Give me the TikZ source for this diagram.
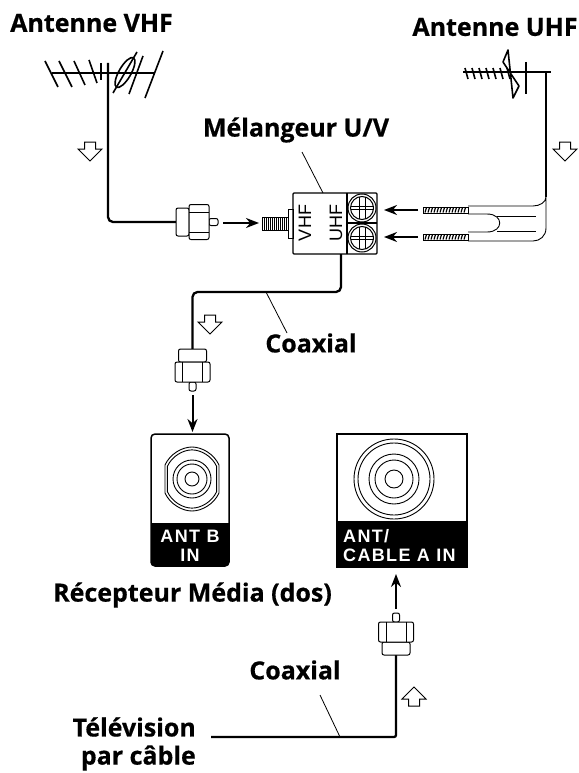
\documentclass[tikz,border=0pt]{standalone}
\usepackage{fontspec}
\setmainfont{Open Sans}[BoldFeatures={FakeBold=0.5}]
\newfontfamily\panelfont[LetterSpace=7.5]{Liberation Sans}
\newfontfamily\markfont{Liberation Sans}
\usetikzlibrary{arrows.meta}
\tikzset{
  title/.style={inner sep=0pt, font=\fontsize{25}{30}\selectfont\bfseries},
  panel/.style={inner sep=0pt, text=white, font=\fontsize{18}{19}\selectfont\panelfont\bfseries},
  portmark/.style={inner sep=0pt, rotate=90, font=\fontsize{18}{18}\selectfont\markfont},
  coax/.style={line width=2.3pt, rounded corners=5pt},
  thin line/.style={line width=0.9pt},
  leader/.style={line width=0.8pt},
  aerial/.style={line width=1.6pt},
  push/.style={line width=2pt, -{Stealth[length=13pt,width=10pt]}},
  plug/.pic={
    \draw[line width=1pt, fill=white, rounded corners=2pt] (33,-3.5) rectangle (42,3.5);
    \draw[line width=1pt, fill=white, rounded corners=2pt] (0,-14) rectangle (13,14);
    \draw[line width=1pt, fill=white, rounded corners=2pt] (13,-17.5) rectangle (33,17.5);
    \draw[line width=1pt] (13,-10) -- (33,-10);
    \draw[line width=1pt] (13,10) -- (33,10);
  },
  hollow/.pic={
    \draw[line width=1pt, fill=white] (0,0) -- (-12,-12) -- (-5.5,-12) -- (-5.5,-19)
      -- (5.5,-19) -- (5.5,-12) -- (12,-12) -- cycle;
  },
  screw/.pic={
    \draw[line width=1pt] (0,0) circle [radius=14];
    \draw[line width=1pt] (0,0) circle [radius=11.5];
    \draw[line width=0.8pt] (-11.5,-1.5) -- (11.5,-1.5);
    \draw[line width=0.8pt] (-11.5,1.5) -- (11.5,1.5);
    \draw[line width=0.8pt] (-3,-11) -- (-3,11);
    \draw[line width=0.8pt] (3,-11) -- (3,11);
  }
}
\begin{document}
\begin{tikzpicture}[x=1pt, y=-1pt]
    \useasboundingbox (0,0) rectangle (578,773);

    % Titles
    \node[title] (vhftitle) at (91.5,23) {Antenne VHF};
    \node[title] (uhftitle) at (495,27) {Antenne UHF};
    \node[title] (mixtitle) at (296,130) {Mélangeur U/V};
    \node[title] (coaxtop) at (311,343) {Coaxial};
    \node[title] (rcvtitle) at (192.5,595) {Récepteur Média (dos)};
    \node[title] (coaxlow) at (295,670) {Coaxial};
    \node[title, anchor=east] (cabletitle) at (196,727) {Télévision};
    \node[title, anchor=east] (cablesub) at (196,758) {par câble};

    % VHF antenna
    \draw[aerial] (52,73) -- (154,73);
    \foreach \xa/\ya/\xb/\yb in {45/61/58/87, 59/61/72/87, 74/61/85/85, 89/60/97/83, 101/63/101/80,
        163/51/145/98, 143/56/129/94, 137/52/113/93} {
      \draw[aerial] (\xa,\ya) -- (\xb,\yb);
    }
    \draw[aerial, rotate around={60:(125,72.5)}] (125,72.5) ellipse (17 and 6);

    % UHF antenna
    \draw[aerial] (463,72) -- (551,72);
    \foreach \xa in {465,472,479,486,493,500,507} {
      \draw[aerial] (\xa,68) -- (\xa+3,79);
    }
    \draw[aerial] (526,62) -- (526,94);
    \draw[aerial, line join=round] (508,50) -- (513,98) -- (519,86) -- (503,62) -- cycle;

    % Mixer
    \node[draw, line width=1.1pt, minimum width=84pt, minimum height=61pt, inner sep=0pt,
        rounded corners=1pt] (mixer) at (335,223.5) {};
    \draw[line width=1.1pt] (347,193) -- (347,254);
    \draw[line width=1.1pt] (347,223) -- (377,223);
    \pic at (362,208) {screw};
    \pic at (362,238) {screw};
    \node[portmark] (vhfmark) at (305,223) {VHF};
    \node[portmark] (uhfmark) at (336,223) {UHF};
    \coordinate (mixleader) at (302,152);
    \draw[leader] (mixleader) -- (323,193);

    % Threaded socket on the mixer
    \draw[line width=1pt] (288,209) rectangle (293,238);
    \draw[line width=1pt] (262,217) rectangle (288,230);
    \foreach \xa in {264,266,...,286} {
      \draw[line width=0.6pt] (\xa,217) -- (\xa,230);
    }

    % VHF cable and plug
    \coordinate (vhfmast) at (108,63);
    \coordinate (vhfplug) at (176,222);
    \draw[coax] (vhfmast) |- (vhfplug);
    \pic at (vhfplug) {plug};
    \coordinate (vhfstart) at (223,223);
    \coordinate (vhfend) at (259,223);
    \draw[push] (vhfstart) -- (vhfend);
    \pic at (90,161) {hollow};

    % UHF cable
    \coordinate (uhfmast) at (546,72);
    \coordinate (uhfsplit) at (546,197);
    \draw[line width=2.3pt] (uhfmast) -- (uhfsplit);
    \draw[thin line] (468,206) -- (533,206) .. controls (540,206) and (546,202) .. (uhfsplit)
      -- (546,228) .. controls (546,236) and (540,241) .. (533,241) -- (468,241);
    \draw[thin line] (468,214) -- (487,214) .. controls (504,214) and (504,232) .. (487,232) -- (468,232);
    \draw[thin line] (497,216) -- (536,216);
    \draw[thin line] (497,231) -- (536,231);
    \foreach \ya in {207,234} {
      \draw[line width=1pt] (423,\ya) rectangle (468,\ya+6);
      \foreach \xa in {425,428,...,465} {
        \draw[line width=1.2pt] (\xa,\ya+5.5) -- (\xa+1.5,\ya+0.5);
      }
    }
    \coordinate (uhfastart) at (418,210);
    \coordinate (uhfaend) at (384,210);
    \coordinate (uhfbstart) at (418,237);
    \coordinate (uhfbend) at (384,237);
    \draw[push] (uhfastart) -- (uhfaend);
    \draw[push] (uhfbstart) -- (uhfbend);
    \pic at (565,161) {hollow};

    % Top coaxial to the receiver
    \coordinate (mixout) at (341,254);
    \coordinate (bplug) at (192.5,349);
    \draw[coax] (mixout) -- (341,292) -- (192.5,292) -- (bplug);
    \pic[rotate=-90] at (bplug) {plug};
    \pic at (210,334) {hollow};
    \coordinate (leadtop) at (266,292);
    \coordinate (leadtopend) at (287,333);
    \draw[leader] (leadtop) -- (leadtopend);
    \coordinate (bstart) at (192.5,395);
    \draw[push] (bstart) -- (192.5,432);

    % ANT B socket
    \node[draw, line width=1.5pt, minimum width=78pt, minimum height=132pt, inner sep=0pt,
        rounded corners=4pt] (socketb) at (190,500) {};
    \fill[rounded corners=4pt] (151,530) -- (151,566) -- (229,566) -- (229,530);
    \fill (151,523) rectangle (229,532);
    \coordinate (holeb) at (192,479);
    \foreach \sa in {1,0.91} {
      \draw[line width=0.9pt, shift={(holeb)}, scale=\sa] (-27,-14)
        .. controls (-22,-25) and (-10,-32) .. (0,-32) .. controls (10,-32) and (22,-25) .. (27,-14)
        -- (27,14) .. controls (22,25) and (10,32) .. (0,32) .. controls (-10,32) and (-22,25) .. (-27,14)
        -- cycle;
    }
    \draw[line width=0.9pt] (holeb) circle [radius=7];
    \draw[line width=0.9pt] (holeb) circle [radius=15];
    \draw[line width=0.9pt] (holeb) circle [radius=19];
    \node[panel, align=center] (bname) at (190,545.5) {ANT B\\IN};

    % ANT/CABLE A socket
    \node[draw, line width=1.8pt, minimum width=130pt, minimum height=133pt, inner sep=0pt] (socketa) at (402,500.5) {};
    \fill (337,521) rectangle (467,567);
    \coordinate (holea) at (394,479);
    \foreach \ra in {9,19,25,36,40} {
      \draw[line width=0.9pt] (holea) circle [radius=\ra];
    }
    \node[panel, align=left, anchor=west] (aname) at (343,545.5) {ANT/\\CABLE A IN};

    % Cable TV coaxial
    \coordinate (cablestart) at (211,737);
    \coordinate (aplug) at (396,655);
    \draw[coax, rounded corners=2pt] (cablestart) -| (aplug);
    \pic[rotate=90] at (aplug) {plug};
    \pic[rotate=180] at (414,687) {hollow};
    \coordinate (leadlow) at (320,695);
    \draw[leader] (leadlow) -- (340,737);
    \coordinate (astart) at (396,609);
    \draw[push] (astart) -- (396,574);
\end{tikzpicture}
\end{document}
